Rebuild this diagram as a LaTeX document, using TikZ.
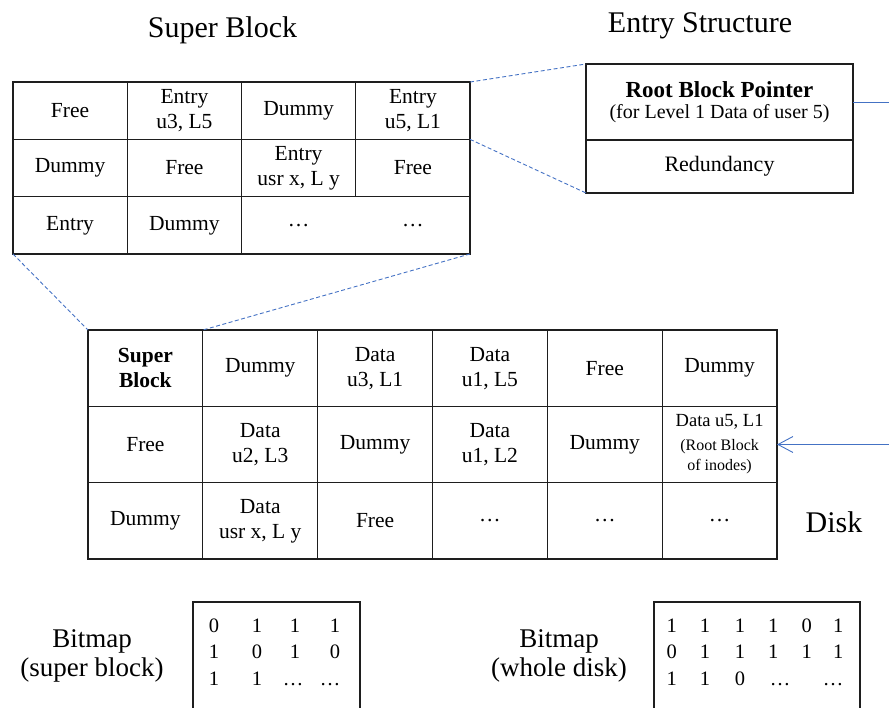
\documentclass[tikz,border=0pt]{standalone}
\usepackage{fontspec}
\setmainfont{Liberation Serif}
\usetikzlibrary{arrows.meta}
\definecolor{linkblue}{RGB}{68,114,196}
\definecolor{gridc}{RGB}{30,30,30}
\begin{document}
\begin{tikzpicture}[x=1pt,y=-1pt,
  cell/.style={draw=gridc, line width=1.2pt, rectangle, inner sep=0pt, outer sep=0pt,
    minimum width=114.25pt, minimum height=57.33pt, align=center,
    font=\fontsize{21.5}{25}\selectfont},
  dcell/.style={cell, minimum width=114.83pt, minimum height=76.33pt},
  plain/.style={inner sep=0pt, font=\fontsize{21.5}{25}\selectfont},
  ebox/.style={draw=gridc, line width=1.2pt, rectangle, inner sep=0pt, outer sep=0pt,
    minimum width=267pt, align=center},
  title/.style={inner sep=0pt, anchor=base, font=\fontsize{30}{34}\selectfont},
  bmlabel/.style={inner sep=0pt, align=center, font=\fontsize{27}{29}\selectfont},
  bmbox/.style={draw=gridc, line width=1.1pt, rectangle, inner sep=0pt, outer sep=0pt,
    anchor=north west, minimum height=160pt},
  bit/.style={inner sep=0pt, anchor=base, font=\fontsize{20.5}{24}\selectfont},
  zoomline/.style={draw=linkblue, line width=0.9pt, dash pattern=on 4pt off 2.5pt},
  ptrline/.style={draw=linkblue, line width=0.9pt}
]
\useasboundingbox (0,0) rectangle (889,708);
\clip (0,0) rectangle (889,708);

% titles
\node[title] (tsb) at (222.5,38) {Super Block};
\node[title] (tes) at (700,33) {Entry Structure};

% super block table
\node[cell] (sb11) at (70.1,110.7) {Free};
\node[cell] (sb12) at (184.4,110.7) {Entry\\u3, L5};
\node[cell] (sb13) at (298.6,110.7) {Dummy};
\node[cell] (sb14) at (412.9,110.7) {Entry\\u5, L1};
\node[cell] (sb21) at (70.1,168) {Dummy};
\node[cell] (sb22) at (184.4,168) {Free};
\node[cell] (sb23) at (298.6,168) {Entry\\usr x, L y};
\node[cell] (sb24) at (412.9,168) {Free};
\node[cell] (sb31) at (70.1,225.3) {Entry};
\node[cell] (sb32) at (184.4,225.3) {Dummy};
\node[cell, minimum width=228.5pt] (sb34) at (355.75,225.3) {};
\node[plain] (sbd1) at (298.6,225.3) {…};
\node[plain] (sbd2) at (412.9,225.3) {…};

% entry structure
\node[ebox, minimum height=76pt, font=\fontsize{20}{21}\selectfont] (erp) at (719.5,102)
  {{\fontsize{23}{21}\selectfont\bfseries Root Block Pointer}\\
   (for Level 1 Data of user 5)};
\node[ebox, minimum height=53pt, font=\fontsize{22}{26}\selectfont] (ered) at (719.5,166.5) {Redundancy};

% disk table
\node[dcell] (dk11) at (145.4,368.2) {\bfseries Super\\\bfseries Block};
\node[dcell] (dk12) at (260.25,368.2) {Dummy};
\node[dcell] (dk13) at (375.1,368.2) {Data\\u3, L1};
\node[dcell] (dk14) at (489.9,368.2) {Data\\u1, L5};
\node[dcell] (dk15) at (604.75,368.2) {Free};
\node[dcell] (dk16) at (719.6,368.2) {Dummy};
\node[dcell] (dk21) at (145.4,444.5) {Free};
\node[dcell] (dk22) at (260.25,444.5) {Data\\u2, L3};
\node[dcell] (dk23) at (375.1,444.5) {Dummy};
\node[dcell] (dk24) at (489.9,444.5) {Data\\u1, L2};
\node[dcell] (dk25) at (604.75,444.5) {Dummy};
\node[dcell, font=\fontsize{16}{20}\selectfont] (dk26) at (719.6,444.5)
  {{\fontsize{18.5}{20}\selectfont Data u5, L1}\\[4pt](Root Block\\of inodes)};
\node[dcell] (dk31) at (145.4,520.8) {Dummy};
\node[dcell] (dk32) at (260.25,520.8) {Data\\usr x, L y};
\node[dcell] (dk33) at (375.1,520.8) {Free};
\node[dcell] (dk34) at (489.9,520.8) {…};
\node[dcell] (dk35) at (604.75,520.8) {…};
\node[dcell] (dk36) at (719.6,520.8) {…};
\node[title] (tdisk) at (834,532) {Disk};

% zoom connectors
\draw[zoomline] (sb14.north east) -- (erp.north west);
\draw[zoomline] (sb14.south east) -- (ered.south west);
\draw[zoomline] (sb31.south west) -- (dk11.north west);
\draw[zoomline] (sb34.south east) -- (dk11.north east);

% root block pointer
\coordinate (offa) at (910,102);
\coordinate (offb) at (910,444.5);
\draw[ptrline, -{Straight Barb[length=15pt,width=16pt,line width=0.9pt]}]
  (erp.east) -- (offa) -- (offb) -- (dk26.east);

% bitmaps
\node[bmlabel] (bml1) at (92,656) {Bitmap\\(super block)};
\node[bmbox, minimum width=167pt] (bm1) at (193,602) {};
\node[bit] at (214,632) {0};
\node[bit] at (257,632) {1};
\node[bit] at (295,632) {1};
\node[bit] at (335,632) {1};
\node[bit] at (214,658.5) {1};
\node[bit] at (257,658.5) {0};
\node[bit] at (295,658.5) {1};
\node[bit] at (335,658.5) {0};
\node[bit] at (214,685) {1};
\node[bit] at (257,685) {1};
\node[bit] at (293,685) {…};
\node[bit] at (330,685) {…};

\node[bmlabel] (bml2) at (559,656) {Bitmap\\(whole disk)};
\node[bmbox, minimum width=206pt] (bm2) at (654,602) {};
\node[bit] at (671.7,632) {1};
\node[bit] at (705,632) {1};
\node[bit] at (740,632) {1};
\node[bit] at (773.3,632) {1};
\node[bit] at (806.7,632) {0};
\node[bit] at (838.3,632) {1};
\node[bit] at (671.7,658.5) {0};
\node[bit] at (705,658.5) {1};
\node[bit] at (740,658.5) {1};
\node[bit] at (773.3,658.5) {1};
\node[bit] at (806.7,658.5) {1};
\node[bit] at (838.3,658.5) {1};
\node[bit] at (671.7,685) {1};
\node[bit] at (705,685) {1};
\node[bit] at (740,685) {0};
\node[bit] at (780,685) {…};
\node[bit] at (833,685) {…};
\end{tikzpicture}
\end{document}
